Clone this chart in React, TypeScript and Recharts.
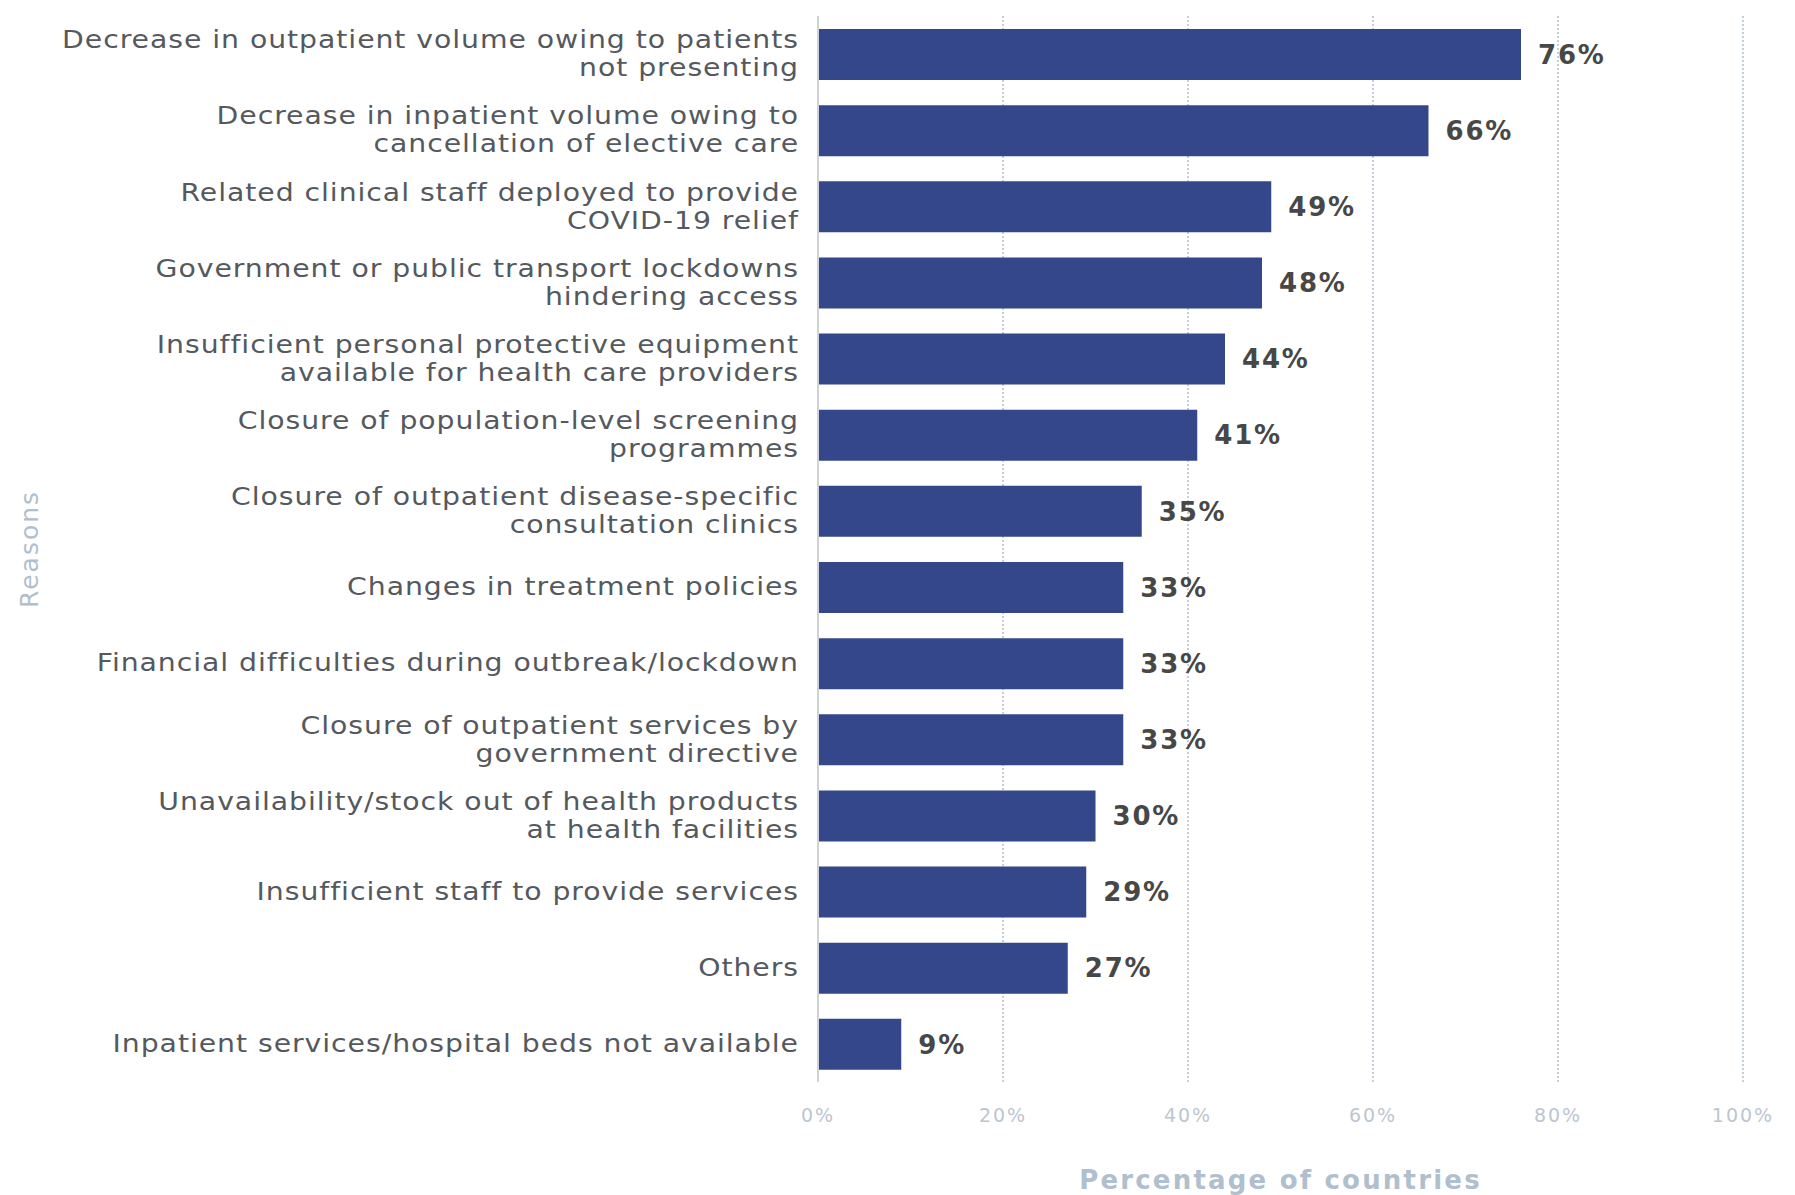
import React from "react";
import {
  BarChart, Bar, XAxis, YAxis, CartesianGrid, LabelList, Label,
} from "recharts";

const reasons = [
  "Decrease in outpatient volume owing to patients\nnot presenting",
  "Decrease in inpatient volume owing to\ncancellation of elective care",
  "Related clinical staff deployed to provide\nCOVID-19 relief",
  "Government or public transport lockdowns\nhindering access",
  "Insufficient personal protective equipment\navailable for health care providers",
  "Closure of population-level screening\nprogrammes",
  "Closure of outpatient disease-specific\nconsultation clinics",
  "Changes in treatment policies",
  "Financial difficulties during outbreak/lockdown",
  "Closure of outpatient services by\ngovernment directive",
  "Unavailability/stock out of health products\nat health facilities",
  "Insufficient staff to provide services",
  "Others",
  "Inpatient services/hospital beds not available",
];

const shares = [76, 66, 49, 48, 44, 41, 35, 33, 33, 33, 30, 29, 27, 9];

const xTicks = [0, 20, 40, 60, 80, 100];

const data = reasons.map((reason, i) => ({ reason, share: shares[i] }));

const FONT = "'DejaVu Sans', 'Noto Sans', sans-serif";

// the original uses a wide geometric face, so stretch the text a bit
const STRETCH = 1.18;

function ReasonTick({ x, y, payload }: { x?: number; y?: number; payload?: { value: string } }) {
  const lines = (payload?.value ?? "").split("\n");
  const lh = 28;
  const start = -((lines.length - 1) * lh) / 2;
  const tx = (x ?? 0) - 17;
  return (
    <text
      x={tx}
      y={(y ?? 0) + start}
      transform={`translate(${tx},0) scale(${STRETCH},1) translate(${-tx},0)`}
      textAnchor="end"
      fill="#55595e"
      fontSize={24}
      letterSpacing={0.8}
      fontFamily={FONT}
      dominantBaseline="central"
    >
      {lines.map((l, i) => (
        <tspan key={i} x={tx} dy={i === 0 ? 0 : lh}>{l}</tspan>
      ))}
    </text>
  );
}

export default function App() {
  return (
    <div style={{ position: "absolute", left: 0, top: 0, background: "#fff" }}>
      <BarChart
        width={1795}
        height={1195}
        data={data}
        layout="vertical"
        margin={{ top: 16, right: 52, bottom: 0, left: 0 }}
        barSize={51}
      >
        <CartesianGrid horizontal={false} stroke="#b3c0ce" strokeWidth={1.5} strokeDasharray="2 2" />
        <XAxis
          type="number"
          domain={[0, 100]}
          ticks={xTicks}
          tickFormatter={(v) => `${v}%`}
          axisLine={false}
          tickLine={false}
          tickSize={0}
          tickMargin={27}
          height={113}
          tick={{ fill: "#bcc6d0", fontSize: 19, letterSpacing: 2, fontFamily: FONT }}
        >
          <Label
            value="Percentage of countries"
            position="insideBottom"
            offset={6}
            fill="#b0bfce"
            fontSize={26}
            letterSpacing={2.2}
            fontWeight="bold"
            fontFamily={FONT}
          />
        </XAxis>
        <YAxis
          type="category"
          dataKey="reason"
          width={818}
          interval={0}
          tickLine={false}
          tickSize={0}
          axisLine={{ stroke: "#cfd2d6", strokeWidth: 2 }}
          tick={<ReasonTick />}
        >
          <Label
            content={({ viewBox }: any) => {
              const cx = (viewBox?.x ?? 0) + 29;
              const cy = (viewBox?.y ?? 0) + (viewBox?.height ?? 0) / 2;
              return (
                <text
                  x={cx}
                  y={cy}
                  transform={`rotate(-90, ${cx}, ${cy})`}
                  textAnchor="middle"
                  dominantBaseline="central"
                  fill="#b0bfce"
                  fontSize={25}
                  letterSpacing={2}
                  fontFamily={FONT}
                >
                  Reasons
                </text>
              );
            }}
          />
        </YAxis>
        <Bar dataKey="share" fill="#34478a" isAnimationActive={false}>
          <LabelList
            dataKey="share"
            position="right"
            offset={17}
            formatter={(v: any) => `${v}%`}
            fill="#474747"
            fontSize={26}
            letterSpacing={1.8}
            fontWeight="bold"
            fontFamily={FONT}
          />
        </Bar>
      </BarChart>
    </div>
  );
}
